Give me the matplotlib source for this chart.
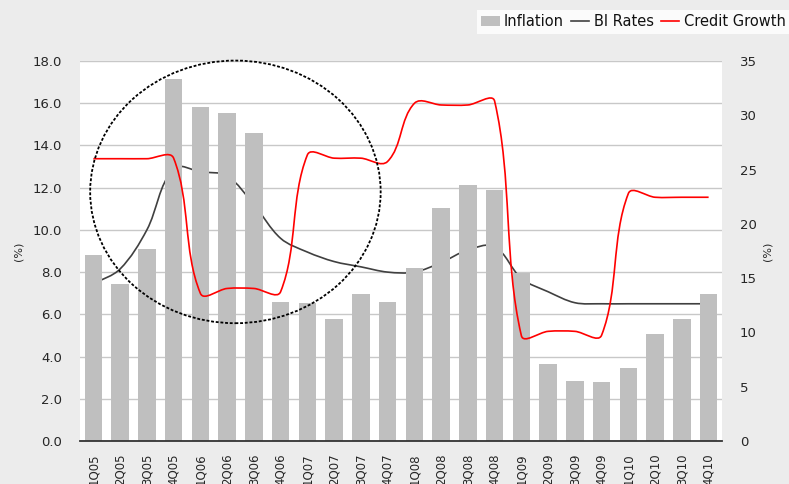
#!/usr/bin/env python3
# -*- coding: utf-8 -*-
"""
Inflation, BI rate and credit growth, quarterly 2005-2010
"""

import numpy as np
import matplotlib
matplotlib.use('Agg')
import matplotlib.pyplot as plt
from matplotlib.path import Path
from matplotlib.patches import PathPatch, Ellipse, Patch
from matplotlib.lines import Line2D

plt.rcParams['font.family'] = 'DejaVu Sans'

# данные
quarters = ['1Q05', '2Q05', '3Q05', '4Q05', '1Q06', '2Q06', '3Q06', '4Q06',
            '1Q07', '2Q07', '3Q07', '4Q07', '1Q08', '2Q08', '3Q08', '4Q08',
            '1Q09', '2Q09', '3Q09', '4Q09', '1Q10', '2Q10', '3Q10', '4Q10']
inflation = [8.8, 7.45, 9.1, 17.15, 15.8, 15.55, 14.6, 6.6,
             6.55, 5.8, 6.95, 6.6, 8.2, 11.05, 12.15, 11.9,
             7.95, 3.65, 2.85, 2.8, 3.45, 5.05, 5.8, 6.95]
bi_rate = [7.44, 8.15, 10.0, 12.9, 12.75, 12.55, 11.2, 9.6,
           8.95, 8.5, 8.25, 8.0, 8.0, 8.45, 9.05, 9.2,
           7.7, 7.07, 6.55, 6.5, 6.5, 6.5, 6.5, 6.5]
credit_growth = [26.0, 26.0, 26.0, 26.05, 13.6, 14.05, 14.05, 13.75,
                 26.35, 26.05, 26.05, 25.75, 31.1, 30.95, 30.95, 31.3,
                 9.7, 10.1, 10.1, 9.75, 22.8, 22.45, 22.45, 22.45]

BG = '#ECECEC'
TEXT = '#262626'


def smooth_line(ax, x, y, color, lw, s=1/3.):
    """Сглаженная линия (как в Excel): кривые Безье через точки данных"""
    pts = ax.transData.transform(np.column_stack([x, y]))
    n = len(pts)
    dirs = []
    for i in range(n):
        a = pts[max(i - 1, 0)]
        b = pts[min(i + 1, n - 1)]
        d = b - a
        dirs.append(d / np.hypot(*d))
    verts = [pts[0]]
    codes = [Path.MOVETO]
    for i in range(n - 1):
        L = np.hypot(*(pts[i + 1] - pts[i]))
        verts += [pts[i] + dirs[i] * L * s,
                  pts[i + 1] - dirs[i + 1] * L * s,
                  pts[i + 1]]
        codes += [Path.CURVE4] * 3
    verts = ax.transData.inverted().transform(np.array(verts))
    patch = PathPatch(Path(verts, codes), facecolor='none', edgecolor=color,
                      lw=lw, transform=ax.transData, capstyle='butt')
    ax.add_patch(patch)


fig = plt.figure(figsize=(7.89, 4.84), dpi=100, facecolor=BG)
ax = fig.add_axes([80 / 789, 43 / 484, 642 / 789, 380 / 484])
ax2 = ax.twinx()

x = np.arange(len(quarters))
ax.set_xlim(-0.5, len(quarters) - 0.5)
ax.set_ylim(0, 18)
ax2.set_ylim(0, 35)

ax.bar(x, inflation, width=0.65, color='#BFBFBF', zorder=2)

# оси
ax.set_yticks(np.arange(0, 18.1, 2))
ax.set_yticklabels([f'{v:.1f}' for v in np.arange(0, 18.1, 2)])
ax2.set_yticks(np.arange(0, 36, 5))
ax.set_xticks(x)
ax.set_xticklabels(quarters, rotation=90, va='top')
ax.grid(True, axis='y', color='#C8C8C8', lw=1, zorder=0)
ax.set_axisbelow(True)

for a in (ax, ax2):
    for side in ('top', 'left', 'right', 'bottom'):
        a.spines[side].set_visible(False)
    a.tick_params(length=0, colors=TEXT)
ax.spines['bottom'].set_visible(True)
ax.spines['bottom'].set_color('#333333')
ax.spines['bottom'].set_linewidth(1.3)
ax.spines['bottom'].set_zorder(5)

ax.tick_params(axis='y', labelsize=9.5, pad=13)
ax2.tick_params(axis='y', labelsize=9.5, pad=13)
ax.tick_params(axis='x', labelsize=8.5, pad=9)

ax.set_ylabel('(%)', fontsize=8, color=TEXT)
ax2.set_ylabel('(%)', fontsize=8, color=TEXT, rotation=90)
ax.yaxis.set_label_coords((23 - 80) / 642, 0.5)
ax2.yaxis.set_label_coords((763 - 80) / 642, 0.5)

# линии
smooth_line(ax, x, bi_rate, '#404040', 1.2)
smooth_line(ax2, x, credit_growth, '#FF0000', 1.2)

# пунктирный эллипс
ell = Ellipse((5.31, 11.8), 10.86, 12.44, transform=ax.transData,
              fill=False, edgecolor='black', lw=1.3, linestyle=(0, (1.6, 1.0)),
              clip_on=False, zorder=6)
ax2.add_patch(ell)

# легенда
handles = [Patch(facecolor='#BFBFBF', edgecolor='none'),
           Line2D([], [], color='#404040', lw=1.2),
           Line2D([], [], color='#FF0000', lw=1.2)]
leg = fig.legend(handles, ['Inflation', 'BI Rates', 'Credit Growth'],
                 loc='upper left', bbox_to_anchor=(477 / 789, 1 - 10 / 484),
                 ncol=3, fontsize=10.5, frameon=True, fancybox=False,
                 borderaxespad=0, borderpad=0.3, handlelength=1.25,
                 handletextpad=0.3, columnspacing=0.5)
leg.get_frame().set_facecolor('white')
leg.get_frame().set_edgecolor('white')
leg.get_frame().set_linewidth(0)
for t in leg.get_texts():
    t.set_color('#111111')

fig.savefig('out.png', dpi=100, facecolor=BG)
